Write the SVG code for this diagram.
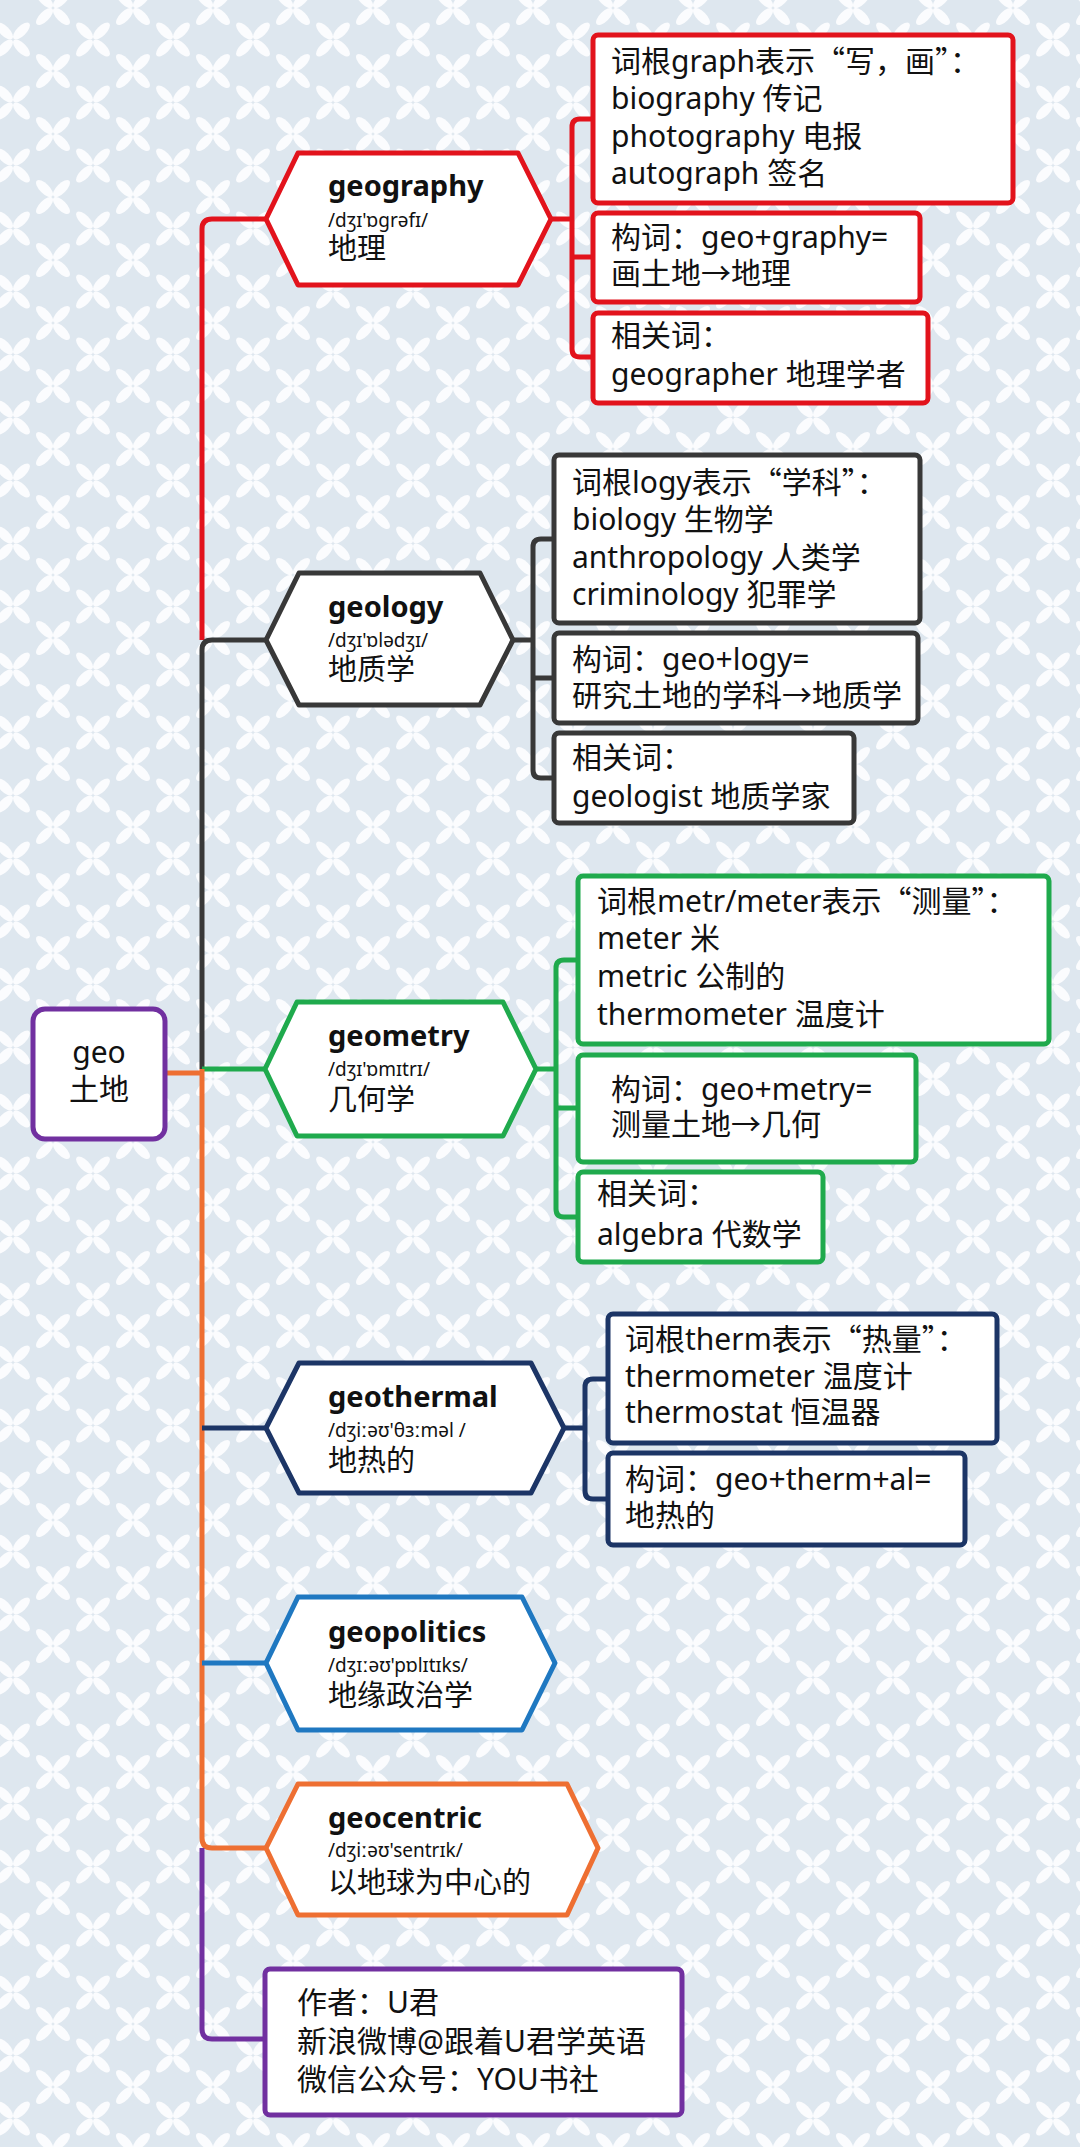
<svg xmlns="http://www.w3.org/2000/svg" xmlns:xlink="http://www.w3.org/1999/xlink" width="1080" height="2147" viewBox="0 0 1080 2147">
<defs>
<g id="m" fill="#fbfcfe">
<g transform="rotate(45)"><ellipse cx="-12" cy="0" rx="11" ry="4.8"/><ellipse cx="12" cy="0" rx="11" ry="4.8"/></g>
<g transform="rotate(-45)"><ellipse cx="-12" cy="0" rx="11" ry="4.8"/><ellipse cx="12" cy="0" rx="11" ry="4.8"/></g>
</g>
<pattern id="bgp" patternUnits="userSpaceOnUse" x="53" y="8" width="80" height="63">
<rect width="80" height="63" fill="#dee7ef"/>
<use href="#m" x="0" y="0"/><use href="#m" x="80" y="0"/><use href="#m" x="0" y="63"/><use href="#m" x="80" y="63"/><use href="#m" x="40" y="31.5"/>
</pattern>
<style>
.t{font-family:"Noto Sans","Noto Sans CJK SC",sans-serif;fill:#111}
.hw{font-size:29px;font-weight:700}
.ph{font-size:19px}
.cn{font-size:29px}
.bt{font-size:30px}
.q{font-family:"Noto Sans CJK SC",sans-serif}
.hex,.box{fill:#fff;stroke-width:5;stroke-linejoin:round}
.ln{fill:none;stroke-width:5;stroke-linejoin:round}
.red{stroke:#e2131c}.dk{stroke:#383838}.gr{stroke:#1faa4d}.nv{stroke:#1c3566}.bl{stroke:#1f78c1}.or{stroke:#ee6f32}.pu{stroke:#7130a0}
</style>
</defs>
<rect width="1080" height="2147" fill="url(#bgp)"/>

<g id="connectors">
<path class="ln red" d="M266 219 H212 Q202 219 202 229 V640"/>
<path class="ln dk" d="M266 640 H212 Q202 640 202 650 V1069"/>
<path class="ln gr" d="M202 1069 H265"/>
<path class="ln or" d="M165 1073 H202 M202 1069 V1838 Q202 1848 212 1848 H266"/>
<path class="ln nv" d="M202 1428 H266"/>
<path class="ln bl" d="M202 1663 H266"/>
<path class="ln pu" d="M202 1848 V2029 Q202 2039 212 2039 H265"/>
<path class="ln red" d="M551 219 H572 M593 119 H580 Q572 119 572 127 V349 Q572 357 580 357 H593 M572 257 H593"/>
<path class="ln dk" d="M513 640 H533 M554 539 H541 Q533 539 533 547 V770 Q533 778 541 778 H554 M533 678 H554"/>
<path class="ln gr" d="M536 1069 H556 M578 960 H564 Q556 960 556 968 V1209 Q556 1217 564 1217 H578 M556 1108 H578"/>
<path class="ln nv" d="M564 1428 H585 M608 1379 H593 Q585 1379 585 1387 V1491 Q585 1499 593 1499 H608"/>
</g>

<g id="root">
<rect x="33" y="1009" width="132" height="130" rx="12" fill="#fff" stroke="#7130a0" stroke-width="5"/>
<text class="t bt" x="99" y="1063" text-anchor="middle">geo</text>
<text class="t bt" x="99" y="1100" text-anchor="middle">土地</text>
</g>

<g id="geography">
<polygon class="hex red" points="266,219 298,153 518,153 551,219 518,285 298,285"/>
<text class="t hw" x="328" y="196">geography</text>
<text class="t ph" x="328" y="227">/dʒɪ'ɒgrəfɪ/</text>
<text class="t cn" x="328" y="259">地理</text>
</g>
<g id="geography-root">
<rect class="box red" x="593" y="35" width="420" height="168" rx="5"/>
<text class="t bt" x="611" y="72">词根graph表示<tspan class="q">“</tspan>写，画<tspan class="q">”</tspan>：</text>
<text class="t bt" x="611" y="109">biography 传记</text>
<text class="t bt" x="611" y="147">photography 电报</text>
<text class="t bt" x="611" y="184">autograph 签名</text>
</g>
<g id="geography-build">
<rect class="box red" x="593" y="213" width="327" height="89" rx="5"/>
<text class="t bt" x="611" y="248">构词：geo+graphy=</text>
<text class="t bt" x="611" y="284">画土地→地理</text>
</g>
<g id="geography-related">
<rect class="box red" x="593" y="313" width="335" height="90" rx="5"/>
<text class="t bt" x="611" y="346">相关词：</text>
<text class="t bt" x="611" y="385">geographer 地理学者</text>
</g>

<g id="geology">
<polygon class="hex dk" points="266,640 299,573 480,573 513,640 480,705 299,705"/>
<text class="t hw" x="328" y="617">geology</text>
<text class="t ph" x="328" y="647">/dʒɪ'ɒlədʒɪ/</text>
<text class="t cn" x="328" y="680">地质学</text>
</g>
<g id="geology-root">
<rect class="box dk" x="554" y="455" width="366" height="168" rx="5"/>
<text class="t bt" x="572" y="493">词根logy表示<tspan class="q">“</tspan>学科<tspan class="q">”</tspan>：</text>
<text class="t bt" x="572" y="530">biology 生物学</text>
<text class="t bt" x="572" y="568">anthropology 人类学</text>
<text class="t bt" x="572" y="605">criminology 犯罪学</text>
</g>
<g id="geology-build">
<rect class="box dk" x="554" y="633" width="364" height="90" rx="5"/>
<text class="t bt" x="572" y="670">构词：geo+logy=</text>
<text class="t bt" x="572" y="706">研究土地的学科→地质学</text>
</g>
<g id="geology-related">
<rect class="box dk" x="554" y="733" width="300" height="90" rx="5"/>
<text class="t bt" x="572" y="768">相关词：</text>
<text class="t bt" x="572" y="807">geologist 地质学家</text>
</g>

<g id="geometry">
<polygon class="hex gr" points="265,1069 297,1002 503,1002 536,1069 503,1136 297,1136"/>
<text class="t hw" x="328" y="1046">geometry</text>
<text class="t ph" x="328" y="1076">/dʒɪ'ɒmɪtrɪ/</text>
<text class="t cn" x="328" y="1110">几何学</text>
</g>
<g id="geometry-root">
<rect class="box gr" x="578" y="876" width="471" height="168" rx="5"/>
<text class="t bt" x="597" y="912">词根metr/meter表示<tspan class="q">“</tspan>测量<tspan class="q">”</tspan>：</text>
<text class="t bt" x="597" y="949">meter 米</text>
<text class="t bt" x="597" y="987">metric 公制的</text>
<text class="t bt" x="597" y="1025">thermometer 温度计</text>
</g>
<g id="geometry-build">
<rect class="box gr" x="578" y="1055" width="338" height="107" rx="5"/>
<text class="t bt" x="611" y="1100">构词：geo+metry=</text>
<text class="t bt" x="611" y="1135">测量土地→几何</text>
</g>
<g id="geometry-related">
<rect class="box gr" x="578" y="1172" width="245" height="90" rx="5"/>
<text class="t bt" x="597" y="1204">相关词：</text>
<text class="t bt" x="597" y="1245">algebra 代数学</text>
</g>

<g id="geothermal">
<polygon class="hex nv" points="266,1428 299,1363 531,1363 564,1428 531,1493 299,1493"/>
<text class="t hw" x="328" y="1407">geothermal</text>
<text class="t ph" x="328" y="1437">/dʒiːəʊ'θɜːməl /</text>
<text class="t cn" x="328" y="1471">地热的</text>
</g>
<g id="geothermal-root">
<rect class="box nv" x="608" y="1314" width="389" height="129" rx="5"/>
<text class="t bt" x="625" y="1350">词根therm表示<tspan class="q">“</tspan>热量<tspan class="q">”</tspan>：</text>
<text class="t bt" x="625" y="1387">thermometer 温度计</text>
<text class="t bt" x="625" y="1423">thermostat 恒温器</text>
</g>
<g id="geothermal-build">
<rect class="box nv" x="608" y="1453" width="357" height="92" rx="5"/>
<text class="t bt" x="625" y="1490">构词：geo+therm+al=</text>
<text class="t bt" x="625" y="1526">地热的</text>
</g>

<g id="geopolitics">
<polygon class="hex bl" points="266,1663 298,1597 522,1597 555,1663 522,1730 298,1730"/>
<text class="t hw" x="328" y="1642">geopolitics</text>
<text class="t ph" x="328" y="1672">/dʒɪːəʊ'pɒlɪtɪks/</text>
<text class="t cn" x="328" y="1706">地缘政治学</text>
</g>

<g id="geocentric">
<polygon class="hex or" points="266,1848 298,1784 567,1784 598,1848 567,1915 298,1915"/>
<text class="t hw" x="328" y="1828">geocentric</text>
<text class="t ph" x="328" y="1857">/dʒiːəʊ'sentrɪk/</text>
<text class="t cn" x="328" y="1893">以地球为中心的</text>
</g>

<g id="author">
<rect class="box pu" x="265" y="1969" width="417" height="146" rx="5"/>
<text class="t bt" x="297" y="2013">作者：U君</text>
<text class="t bt" x="297" y="2052">新浪微博@跟着U君学英语</text>
<text class="t bt" x="297" y="2090">微信公众号：YOU书社</text>
</g>
</svg>
